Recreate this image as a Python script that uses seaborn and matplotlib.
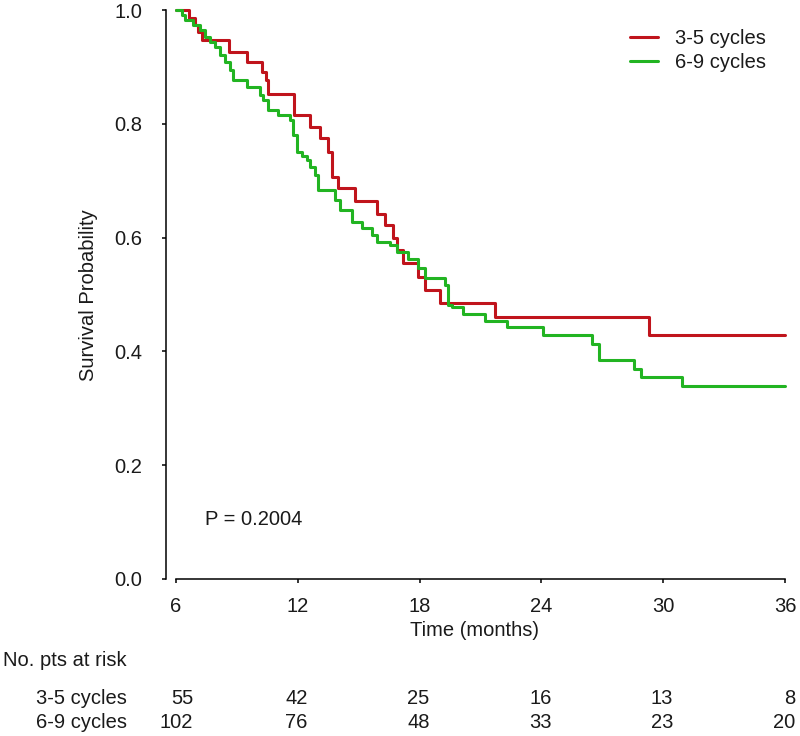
import matplotlib
matplotlib.use('Agg')
import matplotlib.pyplot as plt
import matplotlib.transforms as mtransforms
import seaborn as sns
import pandas as pd

# Kaplan-Meier steps
red_time = [6.0, 6.64, 6.94, 7.08, 7.28, 8.61, 9.50, 10.24, 10.43, 10.53, 11.81, 12.60, 13.09, 13.49,
            13.68, 13.98, 14.82, 15.90, 16.30, 16.69, 16.89, 17.18, 17.92, 18.27, 19.00, 21.71, 29.30, 36.0]
red_surv = [1.0, 0.986, 0.974, 0.961, 0.947, 0.926, 0.909, 0.891, 0.877, 0.852, 0.815, 0.794, 0.775, 0.750,
            0.706, 0.687, 0.664, 0.641, 0.622, 0.599, 0.578, 0.555, 0.531, 0.508, 0.485, 0.460, 0.429, 0.429]

green_time = [6.0, 6.30, 6.44, 6.84, 7.18, 7.43, 7.67, 7.92, 8.17, 8.41, 8.66, 8.81, 9.50, 10.14, 10.29,
              10.53, 11.02, 11.62, 11.76, 11.96, 12.21, 12.45, 12.60, 12.85, 13.00, 13.83, 14.08, 14.67,
              15.16, 15.66, 15.90, 16.54, 16.89, 17.43, 17.92, 18.27, 19.25, 19.40, 19.60, 20.14, 21.22,
              22.31, 24.08, 26.49, 26.84, 28.56, 28.91, 30.93, 36.0]
green_surv = [1.0, 0.991, 0.982, 0.974, 0.965, 0.953, 0.944, 0.935, 0.921, 0.909, 0.895, 0.877, 0.865, 0.851,
              0.842, 0.824, 0.815, 0.807, 0.780, 0.750, 0.743, 0.736, 0.724, 0.710, 0.683, 0.666, 0.649, 0.627,
              0.617, 0.605, 0.592, 0.587, 0.575, 0.562, 0.547, 0.529, 0.517, 0.482, 0.478, 0.466, 0.453,
              0.443, 0.429, 0.413, 0.385, 0.369, 0.355, 0.339, 0.339]

groups = ['3-5 cycles', '6-9 cycles']
risk_times = [6, 12, 18, 24, 30, 36]
risk_red = [55, 42, 25, 16, 13, 8]
risk_green = [102, 76, 48, 33, 23, 20]
p_text = 'P = 0.2004'

df = pd.concat([
    pd.DataFrame({'time': red_time, 'surv': red_surv, 'group': groups[0]}),
    pd.DataFrame({'time': green_time, 'surv': green_surv, 'group': groups[1]}),
])

sns.set_style('white')
plt.rcParams['font.family'] = ['Liberation Sans', 'DejaVu Sans']
FS = 14.5
TXT = '#1a1a1a'

fig = plt.figure(figsize=(8, 7.36), dpi=100)
ax = fig.add_axes([166 / 800, 157 / 736, 624 / 800, 569 / 736])

palette = {groups[0]: '#c0141c', groups[1]: '#22b422'}
sns.lineplot(data=df, x='time', y='surv', hue='group', hue_order=groups, palette=palette,
             estimator=None, drawstyle='steps-post', linewidth=2.2, ax=ax, clip_on=False)

ax.set_xlim(6 - 10 / 20.3, 36 + 5 / 20.3)
ax.set_ylim(0, 1)
ax.set_xticks(risk_times)
ax.set_xticklabels([str(t) for t in risk_times])
ax.set_yticks([0, 0.2, 0.4, 0.6, 0.8, 1.0])
ax.set_yticklabels(['0.0', '0.2', '0.4', '0.6', '0.8', '1.0'])
for s in ['top', 'right']:
    ax.spines[s].set_visible(False)
for s in ['left', 'bottom']:
    ax.spines[s].set_color('black')
    ax.spines[s].set_linewidth(1.1)
ax.spines['bottom'].set_bounds(6, 36)
ax.tick_params(axis='both', direction='out', length=3, width=1.1, color='black',
               labelsize=FS, labelcolor=TXT, left=True, bottom=True)
ax.tick_params(axis='y', pad=14)
ax.tick_params(axis='x', pad=10)
ax.set_xlabel('')
ax.set_ylabel('')

fig.text(475 / 800, 1 - 631 / 736, 'Time (months)', ha='center', va='center', fontsize=FS, color=TXT)
fig.text(88 / 800, 1 - 295 / 736, 'Survival Probability', ha='center', va='center', rotation=90,
         fontsize=FS, color=TXT)
ax.text(6 + 29 / 20.3, 0.104, p_text, ha='left', va='center', fontsize=FS, color=TXT)

handles, labels = ax.get_legend_handles_labels()
ax.legend(handles, labels, loc='upper left', bbox_to_anchor=(630 / 800, 1 - 29 / 736),
          bbox_transform=fig.transFigure, frameon=False, fontsize=FS, handlelength=1.4,
          handletextpad=0.85, labelspacing=0.25, borderpad=0, borderaxespad=0, labelcolor=TXT)

# number at risk table
trans = mtransforms.blended_transform_factory(ax.transData, fig.transFigure)
fig.text(3 / 800, 1 - 660 / 736, 'No. pts at risk', ha='left', va='center', fontsize=FS, color=TXT)
fig.text(127 / 800, 1 - 698 / 736, groups[0], ha='right', va='center', fontsize=FS, color=TXT)
fig.text(127 / 800, 1 - 723 / 736, groups[1], ha='right', va='center', fontsize=FS, color=TXT)
for i, t in enumerate(risk_times):
    xr = t + (17 if i == 0 else 10) / 20.3
    ax.text(xr, 1 - 698 / 736, str(risk_red[i]), ha='right', va='center', fontsize=FS, color=TXT,
            transform=trans, clip_on=False)
    ax.text(xr, 1 - 723 / 736, str(risk_green[i]), ha='right', va='center', fontsize=FS, color=TXT,
            transform=trans, clip_on=False)

fig.savefig('out.png', dpi=100)
